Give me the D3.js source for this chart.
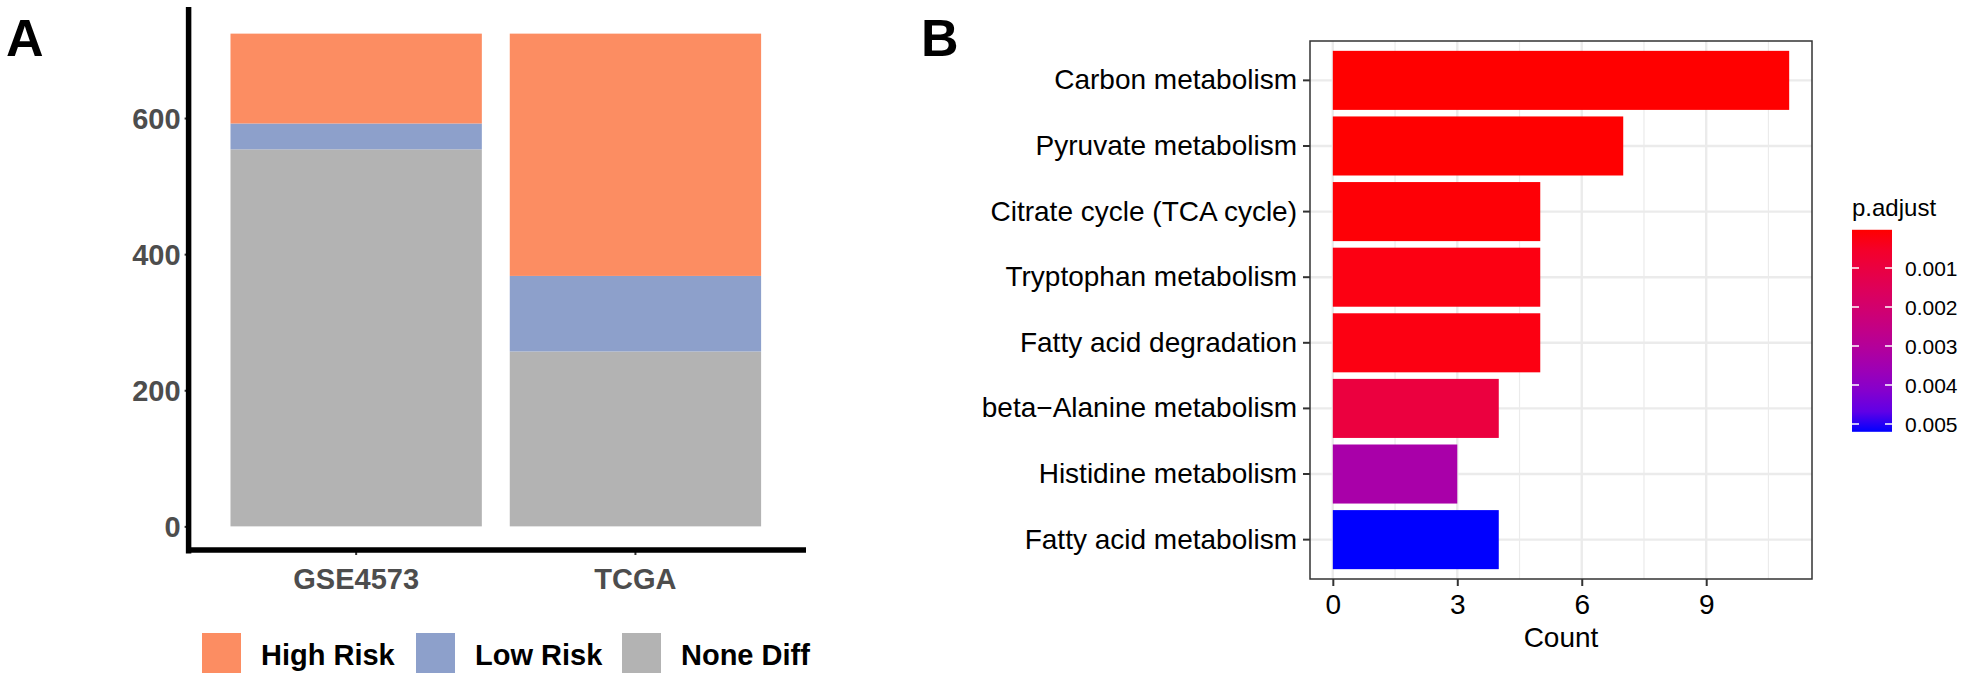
<!DOCTYPE html>
<meta charset="utf-8">
<html lang="en">
  <head>
    <style>
      body { margin: 0; background-color: #fff; }
      text { font-family: "Liberation Sans", Arial, sans-serif; }
      .tagA { font-size: 52px; font-weight: bold; }
      .axisA text { font-size: 29px; font-weight: bold; fill: #4d4d4d; }
      .legA text { font-size: 29px; font-weight: bold; fill: #000; }
      .axisB text { font-size: 28px; fill: #000; }
      .grid { stroke: #ebebeb; }
    </style>
  </head>
  <body>
    <script src="https://cdn.jsdelivr.net/npm/d3@7"></script>
    <svg></svg>
    <script>

      // panel A data
      var groups = ["GSE4573", "TCGA"];
      var riskKeys = ["None Diff", "Low Risk", "High Risk"];
      var noneDiff = [554, 257];
      var lowRisk = [38, 111];
      var highRisk = [132, 356];
      var yTicksA = [0, 200, 400, 600];

      // panel B data
      var pathways = ["Carbon metabolism", "Pyruvate metabolism", "Citrate cycle (TCA cycle)",
        "Tryptophan metabolism", "Fatty acid degradation", "beta\u2212Alanine metabolism",
        "Histidine metabolism", "Fatty acid metabolism"];
      var counts = [11, 7, 5, 5, 5, 4, 3, 4];
      var pAdjust = [0.00002, 0.00003, 0.00007, 0.00018, 0.00018, 0.00095, 0.00334, 0.0052];
      var xTicksB = [0, 3, 6, 9];
      var pTicks = [0.001, 0.002, 0.003, 0.004, 0.005];

      var riskColor = { "High Risk": "#fc8d62", "Low Risk": "#8da0cb", "None Diff": "#b3b3b3" };

      var svg = d3.select("svg").attr("width", 1965).attr("height", 678);

      // ---------- panel A ----------
      var rows = groups.map(function(g, i) {
        return { group: g, "None Diff": noneDiff[i], "Low Risk": lowRisk[i], "High Risk": highRisk[i] };
      });
      var stacked = d3.stack().keys(riskKeys)(rows);
      var yMaxA = d3.max(rows, function(d) { return d["None Diff"] + d["Low Risk"] + d["High Risk"]; });

      // ggplot style: bars 0.9 wide, 0.6 step expansion on each side
      var xA = d3.scaleBand().domain(groups).range([188.6, 803]).paddingInner(0.1).paddingOuter(0.15);
      var yA = d3.scaleLinear().domain([-0.05 * yMaxA, 1.05 * yMaxA]).range([551, 9]);

      svg.append("text").attr("class", "tagA").attr("x", 6).attr("y", 56).text("A");

      var gA = svg.append("g");
      stacked.forEach(function(layer) {
        gA.selectAll(null).data(layer).enter().append("rect")
          .attr("x", function(d) { return xA(d.data.group); })
          .attr("width", xA.bandwidth())
          .attr("y", function(d) { return yA(d[1]); })
          .attr("height", function(d) { return yA(d[0]) - yA(d[1]); })
          .attr("fill", riskColor[layer.key]);
      });

      var axL = svg.append("g").attr("class", "axisA").attr("transform", "translate(188.6,0)")
        .call(d3.axisLeft(yA).tickValues(yTicksA).tickSize(4).tickPadding(4));
      axL.select(".domain").remove();
      axL.selectAll(".tick line").attr("stroke", "#333").attr("stroke-width", 2);
      axL.selectAll(".tick text").attr("dy", "0.36em");

      var axB = svg.append("g").attr("class", "axisA").attr("transform", "translate(0,551)")
        .call(d3.axisBottom(xA).tickSize(4).tickPadding(6));
      axB.select(".domain").remove();
      axB.selectAll(".tick line").attr("stroke", "#333").attr("stroke-width", 2);
      axB.selectAll(".tick text").attr("dy", "0.95em");

      svg.append("line").attr("x1", 188.6).attr("x2", 188.6).attr("y1", 7).attr("y2", 553.5)
        .attr("stroke", "#000").attr("stroke-width", 5.5);
      svg.append("line").attr("x1", 186).attr("x2", 806).attr("y1", 550).attr("y2", 550)
        .attr("stroke", "#000").attr("stroke-width", 5.5);

      var legA = svg.append("g").attr("class", "legA");
      var legX = [202, 416, 622];
      ["High Risk", "Low Risk", "None Diff"].forEach(function(k, i) {
        legA.append("rect").attr("x", legX[i]).attr("y", 633).attr("width", 39).attr("height", 40)
          .attr("fill", riskColor[k]);
        legA.append("text").attr("x", legX[i] + 59).attr("y", 665).text(k);
      });

      // ---------- panel B ----------
      var xB = d3.scaleLinear().domain([-0.05 * d3.max(counts), 1.05 * d3.max(counts)]).range([1310, 1812]);
      var yB = d3.scaleBand().domain(pathways).range([41, 579]).paddingInner(0.1).paddingOuter(0.15);
      var pExt = d3.extent(pAdjust);
      var colorB = d3.scaleLinear().domain(pExt).range(["red", "blue"]).interpolate(d3.interpolateLab);

      svg.append("text").attr("class", "tagA").attr("x", 921).attr("y", 56).text("B");

      var gB = svg.append("g");
      var minorX = [1.5, 4.5, 7.5, 10.5];
      gB.selectAll(null).data(minorX).enter().append("line").attr("class", "grid")
        .attr("x1", xB).attr("x2", xB).attr("y1", 41).attr("y2", 579).attr("stroke-width", 1.2);
      gB.selectAll(null).data(xTicksB).enter().append("line").attr("class", "grid")
        .attr("x1", xB).attr("x2", xB).attr("y1", 41).attr("y2", 579).attr("stroke-width", 2.4);
      gB.selectAll(null).data(pathways).enter().append("line").attr("class", "grid")
        .attr("x1", 1310).attr("x2", 1812)
        .attr("y1", function(d) { return yB(d) + yB.bandwidth() / 2; })
        .attr("y2", function(d) { return yB(d) + yB.bandwidth() / 2; })
        .attr("stroke-width", 2.4);

      gB.selectAll(null).data(pathways).enter().append("rect")
        .attr("x", xB(0))
        .attr("y", function(d) { return yB(d); })
        .attr("height", yB.bandwidth())
        .attr("width", function(d, i) { return xB(counts[i]) - xB(0); })
        .attr("fill", function(d, i) { return colorB(pAdjust[i]); });

      svg.append("rect").attr("x", 1310).attr("y", 41).attr("width", 502).attr("height", 538)
        .attr("fill", "none").attr("stroke", "#333").attr("stroke-width", 1.5);

      var axBL = svg.append("g").attr("class", "axisB").attr("transform", "translate(1310,0)")
        .call(d3.axisLeft(yB).tickSize(7).tickPadding(6));
      axBL.select(".domain").remove();
      axBL.selectAll(".tick line").attr("stroke", "#333").attr("stroke-width", 2);

      var axBB = svg.append("g").attr("class", "axisB").attr("transform", "translate(0,579)")
        .call(d3.axisBottom(xB).tickValues(xTicksB).tickSize(7).tickPadding(6));
      axBB.select(".domain").remove();
      axBB.selectAll(".tick line").attr("stroke", "#333").attr("stroke-width", 2);
      axBB.selectAll(".tick text").attr("dy", "0.8em");

      svg.append("text").attr("x", 1561).attr("y", 647).attr("text-anchor", "middle")
        .style("font-size", "28px").text("Count");

      // colour bar legend: low p.adjust (red) on top
      var pxPerUnit = 39000;
      var barTop = 268 - pxPerUnit * (pTicks[0] - pExt[0]);
      var barBottom = 268 + pxPerUnit * (pExt[1] - pTicks[0]);
      var barX = 1852, barW = 40;
      var yLeg = d3.scaleLinear().domain(pExt).range([barTop, barBottom]);
      var defs = svg.append("defs");
      var grad = defs.append("linearGradient").attr("id", "pgrad")
        .attr("x1", 0).attr("x2", 0).attr("y1", 0).attr("y2", 1);
      d3.range(0, 1.0001, 0.1).forEach(function(t) {
        grad.append("stop").attr("offset", t)
          .attr("stop-color", colorB(pExt[0] + t * (pExt[1] - pExt[0])));
      });
      svg.append("rect").attr("x", barX).attr("y", barTop).attr("width", barW)
        .attr("height", barBottom - barTop).attr("fill", "url(#pgrad)");
      var legB = svg.append("g");
      pTicks.forEach(function(p) {
        var y = yLeg(p);
        legB.append("line").attr("x1", barX).attr("x2", barX + 7).attr("y1", y).attr("y2", y)
          .attr("stroke", "#fff").attr("stroke-width", 1.5);
        legB.append("line").attr("x1", barX + barW - 7).attr("x2", barX + barW).attr("y1", y).attr("y2", y)
          .attr("stroke", "#fff").attr("stroke-width", 1.5);
        legB.append("text").attr("x", 1905).attr("y", y).attr("dy", "0.36em")
          .style("font-size", "21px").text(d3.format(".3f")(p));
      });
      svg.append("text").attr("x", 1852).attr("y", barTop - 14)
        .style("font-size", "24px").text("p.adjust");

    </script>
  </body>
</html>
